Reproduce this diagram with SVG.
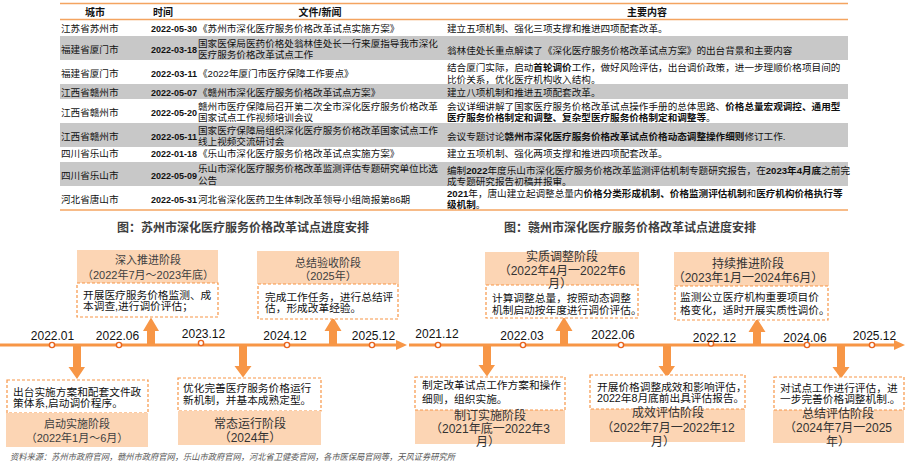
<svg xmlns="http://www.w3.org/2000/svg" width="911" height="464" viewBox="0 0 911 464">
<defs>
<style>
.t{font-family:"Liberation Sans","Noto Sans CJK SC",sans-serif;font-size:9.6px;fill:#111}
.b{font-weight:bold}
.h{font-family:"Liberation Sans","Noto Sans CJK SC",sans-serif;font-size:10px;font-weight:bold;fill:#111}
.d{font-family:"Liberation Sans",Arial,sans-serif;font-size:9.5px;font-weight:bold;fill:#111}
.ttl{font-family:"Liberation Sans","Noto Sans CJK SC",sans-serif;font-size:12px;font-weight:bold;fill:#404040}
.gray{fill:#c8c8c8}
.ol{stroke:#f4a460;stroke-width:1.5}
.tl{stroke:#f79646;stroke-width:3.2}
.ah{fill:#f79646}
.dot{fill:#fff;stroke:#e8641e;stroke-width:1.4}
.lab{font-family:"Liberation Sans",Arial,sans-serif;font-size:12px;fill:#111;text-anchor:middle}
.hd{fill:#fcd5b4}
.ds{fill:#fff;stroke:#f79646;stroke-width:1.2;stroke-dasharray:3 2}
.bt{font-family:"Liberation Sans","Noto Sans CJK SC",sans-serif;font-size:10.7px;fill:#111}
.ht{font-family:"Liberation Sans","Noto Sans CJK SC",sans-serif;font-size:11px;fill:#404040;text-anchor:middle}
.ht2{font-family:"Liberation Sans","Noto Sans CJK SC",sans-serif;font-size:12px;fill:#333;text-anchor:middle}
.src{font-family:"Liberation Sans","Noto Sans CJK SC",sans-serif;font-size:8.8px;font-style:italic;fill:#595959}
</style>
</defs>
<rect width="911" height="464" fill="#fff"/>

<g id="table">
<rect class="gray" x="60" y="36" width="788" height="24"/>
<rect class="gray" x="60" y="84" width="788" height="15"/>
<rect class="gray" x="60" y="123" width="788" height="24"/>
<rect class="gray" x="60" y="162" width="788" height="24"/>
<line class="ol" x1="60" y1="3.5" x2="848" y2="3.5"/>
<line class="ol" x1="60" y1="19.5" x2="848" y2="19.5"/>
<line class="ol" x1="60" y1="210" x2="848" y2="210"/>
<text class="h" x="95" y="15.5" text-anchor="middle">城市</text>
<text class="h" x="163" y="15.5" text-anchor="middle">时间</text>
<text class="h" x="320" y="15.5" text-anchor="middle">文件/新闻</text>
<text class="h" x="647" y="15.5" text-anchor="middle">主要内容</text>

<text class="t" x="61" y="31.5">江苏省苏州市</text>
<text class="d" x="151" y="31.5" textLength="46" lengthAdjust="spacingAndGlyphs">2022-05-30</text>
<text class="t" x="198" y="31.5">《苏州市深化医疗服务价格改革试点实施方案》</text>
<text class="t" x="447" y="31.5">建立五项机制、强化三项支撑和推进四项配套改革。</text>

<text class="t" x="61" y="52.5">福建省厦门市</text>
<text class="d" x="151" y="52.5" textLength="46" lengthAdjust="spacingAndGlyphs">2022-03-18</text>
<text class="t" x="198" y="46.5">国家医保局医药价格处翁林佳处长一行来厦指导我市深化</text>
<text class="t" x="198" y="57.5">医疗服务价格改革试点工作</text>
<text class="t" x="447" y="53.5">翁林佳处长重点解读了《深化医疗服务价格改革试点方案》的出台背景和主要内容</text>

<text class="t" x="61" y="76.5">福建省厦门市</text>
<text class="d" x="151" y="76.5" textLength="46" lengthAdjust="spacingAndGlyphs">2022-03-11</text>
<text class="t" x="198" y="76.5">《2022年厦门市医疗保障工作要点》</text>
<text class="t" x="447" y="70.5">结合厦门实际，启动<tspan class="b">首轮调价</tspan>工作，做好风险评估，出台调价政策，进一步理顺价格项目间的</text>
<text class="t" x="447" y="82.5">比价关系，优化医疗机构收入结构。</text>

<text class="t" x="61" y="95.5">江西省赣州市</text>
<text class="d" x="151" y="95.5" textLength="46" lengthAdjust="spacingAndGlyphs">2022-05-07</text>
<text class="t" x="198" y="95.5">《赣州市深化医疗服务价格改革试点方案》</text>
<text class="t" x="447" y="95.5">建立八项机制和推进五项配套改革。</text>

<text class="t" x="61" y="115.5">江西省赣州市</text>
<text class="d" x="151" y="115.5" textLength="46" lengthAdjust="spacingAndGlyphs">2022-05-20</text>
<text class="t" x="198" y="110">赣州市医疗保障局召开第二次全市深化医疗服务价格改革</text>
<text class="t" x="198" y="121">国家试点工作视频培训会议</text>
<text class="t" x="447" y="109.5">会议详细讲解了国家医疗服务价格改革试点操作手册的总体思路、<tspan class="b">价格总量宏观调控、通用型</tspan></text>
<text class="t" x="447" y="120.5"><tspan class="b">医疗服务价格制定和调整、复杂型医疗服务价格制定和调整等</tspan>。</text>

<text class="t" x="61" y="139.5">江西省赣州市</text>
<text class="d" x="151" y="139.5" textLength="46" lengthAdjust="spacingAndGlyphs">2022-05-11</text>
<text class="t" x="198" y="134">国家医疗保障局组织深化医疗服务价格改革国家试点工作</text>
<text class="t" x="198" y="145">线上视频交流研讨会</text>
<text class="t" x="447" y="139.5">会议专题讨论<tspan class="b">赣州市深化医疗服务价格改革试点价格动态调整操作细则</tspan>修订工作.</text>

<text class="t" x="61" y="156.5">四川省乐山市</text>
<text class="d" x="151" y="156.5" textLength="46" lengthAdjust="spacingAndGlyphs">2022-01-18</text>
<text class="t" x="198" y="156.5">《乐山市深化医疗服务价格改革试点实施方案》</text>
<text class="t" x="447" y="156.5">建立五项机制、强化两项支撑和推进四项配套改革。</text>

<text class="t" x="61" y="178.5">四川省乐山市</text>
<text class="d" x="151" y="178.5" textLength="46" lengthAdjust="spacingAndGlyphs">2022-05-09</text>
<text class="t" x="198" y="172">乐山市深化医疗服务价格改革监测评估专题研究单位比选</text>
<text class="t" x="198" y="183.5">公告</text>
<text class="t" x="447" y="173.5">编制<tspan class="b">2022</tspan>年度乐山市深化医疗服务价格改革监测评估机制专题研究报告，在<tspan class="b">2023年4月底</tspan>之前完</text>
<text class="t" x="447" y="184.5">成专题研究报告初稿并报审。</text>

<text class="t" x="61" y="202.5">河北省唐山市</text>
<text class="d" x="151" y="202.5" textLength="46" lengthAdjust="spacingAndGlyphs">2022-05-31</text>
<text class="t" x="198" y="202.5">河北省深化医药卫生体制改革领导小组简报第86期</text>
<text class="t" x="447" y="196.5"><tspan class="b">2021</tspan>年，唐山建立起调整总量内<tspan class="b">价格分类形成机制、价格监测评估机制</tspan>和<tspan class="b">医疗机构价格执行等</tspan></text>
<text class="t" x="447" y="207.5"><tspan class="b">级机制</tspan>。</text>
</g>

<text class="ttl" x="243" y="232" text-anchor="middle">图：苏州市深化医疗服务价格改革试点进度安排</text>
<text class="ttl" x="630" y="232" text-anchor="middle">图：赣州市深化医疗服务价格改革试点进度安排</text>

<g id="connectors">
<line class="tl" x1="0" y1="345" x2="397" y2="345"/>
<polygon class="ah" points="396,340 407,345 396,350"/>
<line class="tl" x1="409" y1="345" x2="895" y2="345"/>
<polygon class="ah" points="894,340 905,345 894,350"/>
<polygon class="ah" points="147,345 155,345 155,331 159,331 151,317.5 143,331 147,331"/>
<polygon class="ah" points="73,345 81,345 81,367 85,367 77,379 68.5,367 73,367"/>
<polygon class="ah" points="239,345 247,345 247,366 251.5,366 243,377.5 234.5,366 239,366"/>
<polygon class="ah" points="329,345 337,345 337,331 341.5,331 333,317 324.5,331 329,331"/>
<polygon class="ah" points="483,345 491,345 491,365 495,365 487,376.5 478.5,365 483,365"/>
<polygon class="ah" points="560,345 568,345 568,331 572.5,331 564,317 555.5,331 560,331"/>
<polygon class="ah" points="663,345 671,345 671,366 675,366 667,377.5 658.5,366 663,366"/>
<polygon class="ah" points="753,345 761,345 761,332 765.5,332 757,318.5 748.5,332 753,332"/>
<polygon class="ah" points="837,345 845,345 845,367 849.5,367 841,378.5 832.5,367 837,367"/>
<circle class="dot" cx="52" cy="345" r="2.6"/>
<circle class="dot" cx="119" cy="345" r="2.6"/>
<circle class="dot" cx="201" cy="343" r="2.6"/>
<circle class="dot" cx="287" cy="345" r="2.6"/>
<circle class="dot" cx="372" cy="345" r="2.6"/>
<circle class="dot" cx="438" cy="345" r="2.6"/>
<circle class="dot" cx="523" cy="345" r="2.6"/>
<circle class="dot" cx="621" cy="345" r="2.6"/>
<circle class="dot" cx="711" cy="343.5" r="2.6"/>
<circle class="dot" cx="807" cy="345" r="2.6"/>
<circle class="dot" cx="872" cy="345" r="2.6"/>
</g>

<g id="dates">
<text class="lab" x="52.5" y="340">2022.01</text>
<text class="lab" x="117.5" y="340">2022.06</text>
<text class="lab" x="203.5" y="338">2023.12</text>
<text class="lab" x="285" y="340">2024.12</text>
<text class="lab" x="373.5" y="340">2025.12</text>
<text class="lab" x="437" y="338">2021.12</text>
<text class="lab" x="522" y="339.5">2022.03</text>
<text class="lab" x="613" y="339">2022.06</text>
<text class="lab" x="714.5" y="341.5">2022.12</text>
<text class="lab" x="805" y="341.5">2024.06</text>
<text class="lab" x="874.5" y="340">2025.12</text>
</g>

<g id="node-shenru">
<rect class="hd" x="77" y="250" width="141" height="33"/>
<rect class="ds" x="77" y="283" width="141" height="34"/>
<text class="ht" x="148" y="264">深入推进阶段</text>
<text class="ht" x="148" y="279">（2022年7月～2023年底）</text>
<text class="bt" x="83" y="299">开展医疗服务价格监测、成</text>
<text class="bt" x="83" y="310">本调查,进行调价评估；</text>
</g>

<g id="node-zongjie-yanshou">
<rect class="hd" x="257" y="251" width="142" height="33"/>
<rect class="ds" x="258" y="284" width="140" height="35"/>
<text class="ht" x="328" y="267">总结验收阶段</text>
<text class="ht" x="328" y="280">（2025年）</text>
<text class="bt" x="265" y="300.5">完成工作任务，进行总结评</text>
<text class="bt" x="265" y="311.5">估，形成改革经验。</text>
</g>

<g id="node-qidong">
<rect class="ds" x="7" y="380" width="141" height="33"/>
<rect class="hd" x="6" y="413" width="142" height="34"/>
<text class="bt" x="13" y="396">出台实施方案和配套文件政</text>
<text class="bt" x="13" y="407">策体系,启动调价程序。</text>
<text class="ht" x="77" y="428">启动实施阶段</text>
<text class="ht" x="77" y="442">（2022年1月～6月）</text>
</g>

<g id="node-changtai">
<rect class="ds" x="178" y="378" width="143" height="33"/>
<rect class="hd" x="178" y="411" width="143" height="34"/>
<text class="bt" x="183" y="392">优化完善医疗服务价格运行</text>
<text class="bt" x="183" y="404">新机制，并基本成熟定型。</text>
<text class="ht2" x="250" y="427.5">常态运行阶段</text>
<text class="ht2" x="250" y="441.5">（2024年）</text>
</g>

<g id="node-shizhi">
<rect class="hd" x="485" y="252" width="154" height="33"/>
<rect class="ds" x="486" y="285" width="152" height="33"/>
<text class="ht2" x="562" y="261">实质调整阶段</text>
<text class="ht2" x="562" y="274.5">（2022年4月一2022年6</text>
<text class="ht2" x="560" y="288">月）</text>
<text class="bt" x="492" y="301.5">计算调整总量，按照动态调整</text>
<text class="bt" x="492" y="313.5">机制启动按年度进行调价评估。</text>
</g>

<g id="node-chixu">
<rect class="hd" x="674" y="252" width="155" height="34"/>
<rect class="ds" x="675" y="286" width="153" height="34"/>
<text class="ht2" x="748" y="267.5">持续推进阶段</text>
<text class="ht2" x="748" y="282">（2023年1月一2024年6月）</text>
<text class="bt" x="680" y="301">监测公立医疗机构重要项目价</text>
<text class="bt" x="680" y="314">格变化，适时开展实质性调价。</text>
</g>

<g id="node-zhiding">
<rect class="hd" x="415" y="410" width="150" height="34"/>
<rect class="ds" x="415" y="377" width="150" height="33"/>
<text class="bt" x="422" y="389">制定改革试点工作方案和操作</text>
<text class="bt" x="422" y="403">细则，组织实施。</text>
<text class="ht2" x="490" y="419.5">制订实施阶段</text>
<text class="ht2" x="490" y="432.5">（2021年底一2022年3</text>
<text class="ht2" x="488" y="446">月）</text>
</g>

<g id="node-chengxiao">
<rect class="hd" x="590" y="409" width="155" height="33"/>
<rect class="ds" x="590" y="375" width="155" height="34"/>
<text class="bt" x="597" y="390.5">开展价格调整成效和影响评估，</text>
<text class="bt" x="597" y="402">2022年8月底前出具评估报告。</text>
<text class="ht2" x="668" y="416.5">成效评估阶段</text>
<text class="ht2" x="668" y="431.5">（2022年7月一2022年12</text>
<text class="ht2" x="663" y="446">月）</text>
</g>

<g id="node-zongjie-pinggu">
<rect class="hd" x="773" y="410" width="131" height="33"/>
<rect class="ds" x="774" y="377" width="130" height="33"/>
<text class="bt" x="780" y="391.5">对试点工作进行评估，进</text>
<text class="bt" x="780" y="402.5">一步完善价格调整机制.。</text>
<text class="ht2" x="838" y="417.5">总结评估阶段</text>
<text class="ht2" x="838" y="432">（2024年7月一2025</text>
<text class="ht2" x="838" y="446">年）</text>
</g>

<text class="src" x="10" y="460" textLength="445" lengthAdjust="spacingAndGlyphs">资料来源：苏州市政府官网，赣州市政府官网，乐山市政府官网，河北省卫健委官网，各市医保局官网等，天风证券研究所</text>
</svg>
